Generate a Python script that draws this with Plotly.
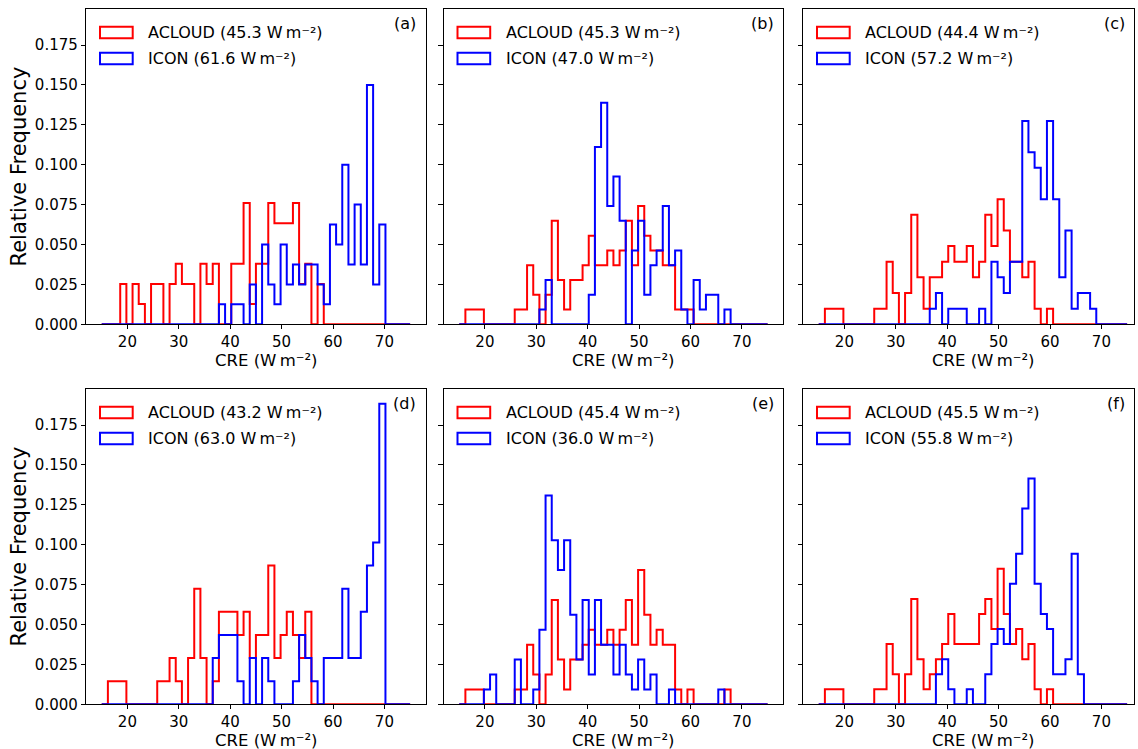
import plotly.graph_objects as go

W, H = 1138, 749

# 50 bins of 1.2 W m-2 spanning 15-75 W m-2
BIN_START, BIN_WIDTH, N_BINS = 15.0, 1.2, 50

PANEL_LABELS = ["(a)", "(b)", "(c)", "(d)", "(e)", "(f)"]
ACLOUD_MEANS = ["45.3", "45.3", "44.4", "43.2", "45.4", "45.5"]
ICON_MEANS = ["61.6", "47.0", "57.2", "63.0", "36.0", "55.8"]

X_TICKS = [20, 30, 40, 50, 60, 70]
Y_TICKS = [0.0, 0.025, 0.05, 0.075, 0.1, 0.125, 0.15, 0.175]

# counts per bin (normalised to relative frequency when drawn)
ACLOUD_A = [0, 0, 0, 2, 0, 2, 1, 0, 2, 2, 0, 2, 3, 2, 2, 0, 3, 2, 3, 0,
            0, 3, 3, 6, 1, 3, 3, 6, 5, 5, 5, 6, 2, 3, 0, 2, 0, 0, 0, 0,
            0, 0, 0, 0, 0, 0, 0, 0, 0, 0]
ICON_A = [0, 0, 0, 0, 0, 0, 0, 0, 0, 0, 0, 0, 0, 0, 0, 0, 0, 0, 0, 1,
          0, 1, 1, 0, 2, 0, 4, 2, 1, 4, 2, 3, 2, 3, 3, 2, 1, 5, 4, 8,
          3, 6, 3, 12, 2, 5, 0, 0, 0, 0]

ACLOUD_B = [0, 1, 1, 1, 0, 0, 0, 0, 0, 1, 1, 4, 2, 0, 2, 7, 3, 1, 3, 3,
            4, 6, 4, 4, 5, 4, 5, 7, 4, 8, 6, 5, 5, 4, 4, 1, 1, 1, 0, 0,
            0, 0, 0, 0, 0, 0, 0, 0, 0, 0]
ICON_B = [0, 0, 0, 0, 0, 0, 0, 0, 0, 0, 0, 0, 0, 1, 3, 0, 0, 0, 0, 0,
          0, 2, 12, 15, 8, 10, 7, 0, 5, 7, 2, 4, 5, 8, 4, 5, 1, 0, 3, 1,
          2, 2, 0, 1, 0, 0, 0, 0, 0, 0]

ACLOUD_C = [0, 1, 1, 1, 0, 0, 0, 0, 0, 1, 1, 4, 2, 0, 2, 7, 3, 1, 3, 3,
            4, 5, 4, 4, 5, 3, 4, 7, 5, 8, 6, 4, 4, 3, 4, 1, 0, 1, 0, 0,
            0, 0, 0, 0, 0, 0, 0, 0, 0, 0]
ICON_C = [0, 0, 0, 0, 0, 0, 0, 0, 0, 0, 0, 0, 0, 0, 0, 0, 0, 0, 1, 2,
          0, 1, 1, 1, 0, 0, 1, 0, 4, 3, 2, 4, 4, 13, 11, 10, 8, 13, 8, 3,
          6, 1, 2, 2, 1, 0, 0, 0, 0, 0]

ACLOUD_D = [0, 1, 1, 1, 0, 0, 0, 0, 0, 1, 1, 2, 1, 0, 2, 5, 2, 0, 1, 4,
            4, 4, 3, 4, 2, 3, 3, 6, 2, 3, 4, 3, 2, 4, 0, 0, 0, 0, 0, 0,
            0, 0, 0, 0, 0, 0, 0, 0, 0, 0]
ICON_D = [0, 0, 0, 0, 0, 0, 0, 0, 0, 0, 0, 0, 0, 0, 0, 0, 0, 0, 2, 3,
          3, 3, 1, 0, 2, 0, 2, 1, 0, 0, 0, 1, 3, 2, 1, 0, 2, 2, 2, 5,
          2, 2, 4, 6, 7, 13, 0, 0, 0, 0]

ACLOUD_E = [0, 1, 1, 1, 0, 0, 0, 0, 0, 1, 1, 4, 2, 0, 2, 7, 3, 1, 3, 3,
            4, 5, 4, 4, 5, 4, 5, 7, 4, 9, 6, 4, 5, 4, 4, 1, 0, 1, 0, 0,
            0, 0, 0, 1, 0, 0, 0, 0, 0, 0]
ICON_E = [0, 0, 0, 0, 1, 2, 0, 0, 0, 3, 0, 0, 1, 5, 14, 11, 9, 11, 6, 3,
          7, 2, 7, 4, 4, 2, 4, 2, 1, 3, 1, 2, 0, 0, 1, 0, 0, 0, 0, 0,
          0, 0, 1, 0, 0, 0, 0, 0, 0, 0]

ACLOUD_F = [0, 1, 1, 1, 0, 0, 0, 0, 0, 1, 1, 4, 2, 0, 2, 7, 3, 1, 2, 3,
            4, 6, 4, 4, 4, 4, 6, 7, 5, 9, 6, 4, 5, 3, 4, 1, 0, 1, 0, 0,
            0, 0, 0, 0, 0, 0, 0, 0, 0, 0]
ICON_F = [0, 0, 0, 0, 0, 0, 0, 0, 0, 0, 0, 0, 0, 0, 0, 0, 0, 0, 0, 2,
          3, 1, 0, 0, 1, 0, 0, 2, 4, 5, 4, 8, 10, 13, 15, 8, 6, 5, 2, 2,
          3, 10, 2, 0, 0, 0, 0, 0, 0, 0]

ACLOUD = [ACLOUD_A, ACLOUD_B, ACLOUD_C, ACLOUD_D, ACLOUD_E, ACLOUD_F]
ICON = [ICON_A, ICON_B, ICON_C, ICON_D, ICON_E, ICON_F]

RED, BLUE = "#ff0000", "#0000ff"
FONT = "DejaVu Sans"
UNIT = "W\u2009m\u207b\u00b2"

# panel frames in pixels: (left, right) per column, (top, bottom) per row
COLS = [(86.3, 425.5), (443.8, 783.0), (803.3, 1134.0)]
ROWS = [(8.6, 324.3), (388.6, 704.3)]
PX_PER_UNIT = 5.14
X_LO = 12.0


def fx(px):
    return px / W


def fy(py):
    return 1 - py / H


def rel_freq(counts):
    total = sum(counts)
    return [v / total for v in counts]


edges = [BIN_START + BIN_WIDTH * k for k in range(N_BINS + 1)]
Y_HI = 1.05 * max(max(rel_freq(s)) for s in ACLOUD + ICON)

fig = go.Figure()

for i in range(6):
    r, c = divmod(i, 3)
    n = i + 1
    xa = "x" if n == 1 else f"x{n}"
    ya = "y" if n == 1 else f"y{n}"
    left, right = COLS[c]
    top, bottom = ROWS[r]
    x_hi = X_LO + (right - left) / PX_PER_UNIT

    # step outlines of both histograms
    for counts, color in ((ACLOUD[i], RED), (ICON[i], BLUE)):
        fig.add_trace(go.Scatter(
            x=[edges[0]] + edges,
            y=[0.0] + rel_freq(counts) + [0.0],
            mode="lines",
            line=dict(color=color, width=2, shape="hv"),
            xaxis=xa, yaxis=ya, showlegend=False, hoverinfo="skip",
        ))

    axis_font = dict(family=FONT, size=15, color="black")
    fig.layout["xaxis" if n == 1 else f"xaxis{n}"] = dict(
        domain=[fx(left), fx(right)], anchor=ya, range=[X_LO, x_hi],
        tickvals=X_TICKS, ticks="outside", ticklen=4, tickwidth=1,
        tickcolor="black", showline=True, linecolor="black", linewidth=1,
        mirror=True, showgrid=False, zeroline=False, tickfont=axis_font,
        automargin=False,
    )
    fig.layout["yaxis" if n == 1 else f"yaxis{n}"] = dict(
        domain=[fy(bottom), fy(top)], anchor=xa, range=[0, Y_HI],
        tickvals=Y_TICKS, tickformat=".3f", ticks="outside", ticklen=4.5,
        tickwidth=1, tickcolor="black", showline=True, linecolor="black",
        linewidth=1, mirror=True, showgrid=False, zeroline=False,
        showticklabels=(c == 0), tickfont=axis_font, automargin=False,
    )

    # legend entries
    for j, (name, val, color) in enumerate((("ACLOUD", ACLOUD_MEANS[i], RED),
                                            ("ICON", ICON_MEANS[i], BLUE))):
        y0 = top + 18.1 + 26.0 * j
        fig.add_shape(type="rect", xref="paper", yref="paper",
                      x0=fx(left + 13.7), x1=fx(left + 46.4),
                      y0=fy(y0 + 11.6), y1=fy(y0),
                      line=dict(color=color, width=2),
                      fillcolor="rgba(0,0,0,0)")
        fig.add_annotation(xref="paper", yref="paper", x=fx(left + 59.7),
                           y=fy(y0 + 5.8), xanchor="left", yanchor="middle",
                           text=f"{name} ({val} {UNIT})", showarrow=False,
                           font=dict(family=FONT, size=16, color="black"))

    fig.add_annotation(xref="paper", yref="paper", x=fx(right - 7.5),
                       y=fy(top + 14.7), xanchor="right", yanchor="middle",
                       text=PANEL_LABELS[i], showarrow=False,
                       font=dict(family=FONT, size=16, color="black"))

    fig.add_annotation(xref="paper", yref="paper",
                       x=fx(left + (47.0 - X_LO) * PX_PER_UNIT),
                       y=fy(bottom + 36.0), xanchor="center", yanchor="middle",
                       text=f"CRE ({UNIT})", showarrow=False,
                       font=dict(family=FONT, size=16.5, color="black"))

    if c == 0:
        fig.add_annotation(xref="paper", yref="paper", x=fx(19),
                           y=fy((top + bottom) / 2), xanchor="center",
                           yanchor="middle", text="Relative Frequency",
                           textangle=-90, showarrow=False,
                           font=dict(family=FONT, size=21, color="black"))

fig.update_layout(
    template="none",
    width=W, height=H, margin=dict(l=0, r=0, t=0, b=0, autoexpand=False),
    paper_bgcolor="white", plot_bgcolor="white", showlegend=False,
)

fig.write_html("out.html")
